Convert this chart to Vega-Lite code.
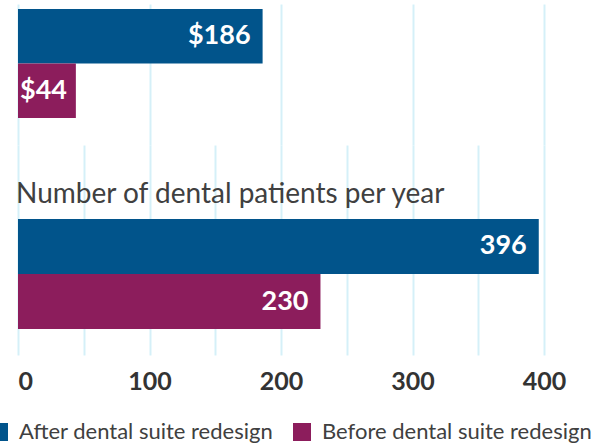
{
  "$schema": "https://vega.github.io/schema/vega-lite/v6.json",
  "padding": {"left": -12, "top": 4, "right": 0, "bottom": 0},
  "autosize": {"type": "pad"},
  "background": "white",
  "spacing": 0,
  "datasets": {
    "bars": [
      {"metric": "cost", "series": "After dental suite redesign", "value": 186, "label": "$186"},
      {"metric": "cost", "series": "Before dental suite redesign", "value": 44, "label": "$44"},
      {"metric": "patients", "series": "After dental suite redesign", "value": 396, "label": "396"},
      {"metric": "patients", "series": "Before dental suite redesign", "value": 230, "label": "230"}
    ]
  },
  "config": {
    "view": {"stroke": null},
    "font": "Lato",
    "axis": {"gridColor": "#d5f0f8", "gridWidth": 2, "gridOpacity": 1}
  },
  "vconcat": [
    {
      "width": 576,
      "height": 141,
      "data": {"name": "bars"},
      "transform": [{"filter": "datum.metric == 'cost'"}],
      "encoding": {
        "x": {"field": "value", "type": "quantitative", "scale": {"domain": [0, 438], "nice": false},
          "axis": {"values": [0, 100, 200, 300, 400], "labels": false, "ticks": false, "domain": false, "title": null, "grid": true}},
        "y": {"field": "series", "type": "nominal", "scale": {"paddingInner": 0, "paddingOuter": 0.2936, "align": 0.156}, "axis": null}
      },
      "layer": [
        {"mark": {"type": "bar"},
          "encoding": {"color": {"field": "series", "type": "nominal",
            "scale": {"domain": ["After dental suite redesign", "Before dental suite redesign"], "range": ["#01548b", "#8c1d5c"]},
            "legend": {"orient": "none", "legendX": -30, "legendY": 417, "direction": "horizontal", "title": null,
              "symbolType": "square", "symbolSize": 324, "symbolStrokeWidth": 0, "labelFontSize": 22, "labelColor": "#404040", "labelFont": "Lato",
              "labelOffset": 9, "columnPadding": 17, "labelLimit": 400}}}},
        {"transform": [{"filter": "datum.value > 100"}],
          "mark": {"type": "text", "align": "right", "baseline": "middle", "dx": -12, "color": "white", "fontSize": 27, "fontWeight": "bold", "font": "Lato"},
          "encoding": {"text": {"field": "label"}}},
        {"transform": [{"filter": "datum.value <= 100"}],
          "mark": {"type": "text", "align": "left", "baseline": "middle", "dx": 2, "color": "white", "fontSize": 27, "fontWeight": "bold", "font": "Lato"},
          "encoding": {"x": {"datum": 0}, "text": {"field": "label"}}}
      ]
    },
    {
      "width": 576,
      "height": 210,
      "title": {"text": "Number of dental patients per year", "anchor": "start", "orient": "top", "offset": -86, "baseline": "alphabetic",
        "fontSize": 28, "fontWeight": "normal", "color": "#404040", "font": "Lato", "dx": -2},
      "data": {"name": "bars"},
      "transform": [{"filter": "datum.metric == 'patients'"}],
      "encoding": {
        "x": {"field": "value", "type": "quantitative", "scale": {"domain": [0, 438], "nice": false},
          "axis": {"values": [0, 50, 100, 150, 200, 250, 300, 350, 400], "labelExpr": "datum.value % 100 == 0 ? datum.label : ''",
            "ticks": false, "domain": false, "title": null, "grid": true, "labelFontSize": 25, "labelFontWeight": "bold", "labelColor": "#333333",
            "labelFont": "Lato", "labelPadding": 14}},
        "y": {"field": "series", "type": "nominal", "scale": {"paddingInner": 0, "paddingOuter": 0.909, "align": 0.74}, "axis": null}
      },
      "layer": [
        {"mark": {"type": "bar"},
          "encoding": {"color": {"field": "series", "type": "nominal",
            "scale": {"domain": ["After dental suite redesign", "Before dental suite redesign"], "range": ["#01548b", "#8c1d5c"]}}}},
        {"mark": {"type": "text", "align": "right", "baseline": "middle", "dx": -12, "color": "white", "fontSize": 27, "fontWeight": "bold", "font": "Lato"},
          "encoding": {"text": {"field": "label"}}}
      ]
    }
  ]
}
